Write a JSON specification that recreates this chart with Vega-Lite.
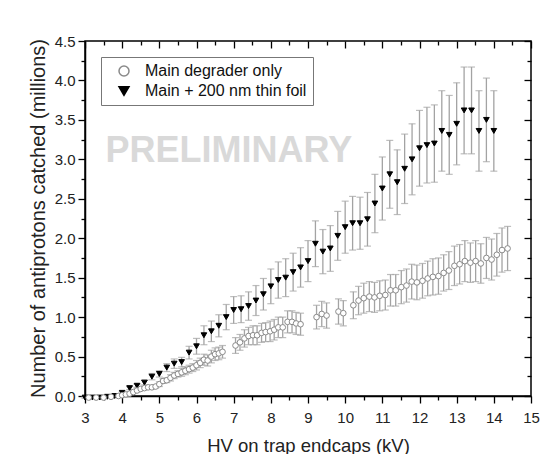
{
  "$schema": "https://vega.github.io/schema/vega-lite/v6.json",
  "autosize": {"type": "none"},
  "padding": {"left": 85, "top": 41, "right": 26, "bottom": 58},
  "width": 446,
  "height": 355,
  "background": "white",
  "config": {
    "font": "Liberation Sans",
    "view": {"stroke": "black", "strokeWidth": 1.5},
    "axis": {"grid": false, "domainColor": "black", "domainWidth": 1.5, "tickColor": "black", "tickWidth": 1.3, "labelColor": "#222", "titleColor": "#222", "labelFont": "Liberation Sans", "titleFont": "Liberation Sans", "titleFontWeight": "normal"}
  },
  "datasets": {
    "pts": [
      {"series": "Main + 200 nm thin foil", "hv": 3.0, "n": -0.02, "err": 0.01},
      {"series": "Main + 200 nm thin foil", "hv": 3.2, "n": -0.02, "err": 0.01},
      {"series": "Main + 200 nm thin foil", "hv": 3.4, "n": -0.02, "err": 0.01},
      {"series": "Main + 200 nm thin foil", "hv": 3.6, "n": -0.01, "err": 0.01},
      {"series": "Main + 200 nm thin foil", "hv": 3.8, "n": 0.0, "err": 0.01},
      {"series": "Main + 200 nm thin foil", "hv": 4.0, "n": 0.04, "err": 0.01},
      {"series": "Main + 200 nm thin foil", "hv": 4.2, "n": 0.10, "err": 0.02},
      {"series": "Main + 200 nm thin foil", "hv": 4.4, "n": 0.13, "err": 0.02},
      {"series": "Main + 200 nm thin foil", "hv": 4.6, "n": 0.17, "err": 0.03},
      {"series": "Main + 200 nm thin foil", "hv": 4.8, "n": 0.245, "err": 0.04},
      {"series": "Main + 200 nm thin foil", "hv": 5.0, "n": 0.28, "err": 0.04},
      {"series": "Main + 200 nm thin foil", "hv": 5.2, "n": 0.36, "err": 0.05},
      {"series": "Main + 200 nm thin foil", "hv": 5.4, "n": 0.41, "err": 0.06},
      {"series": "Main + 200 nm thin foil", "hv": 5.6, "n": 0.43, "err": 0.06},
      {"series": "Main + 200 nm thin foil", "hv": 5.8, "n": 0.55, "err": 0.08},
      {"series": "Main + 200 nm thin foil", "hv": 6.0, "n": 0.63, "err": 0.10},
      {"series": "Main + 200 nm thin foil", "hv": 6.2, "n": 0.77, "err": 0.12},
      {"series": "Main + 200 nm thin foil", "hv": 6.4, "n": 0.82, "err": 0.13},
      {"series": "Main + 200 nm thin foil", "hv": 6.6, "n": 0.89, "err": 0.14},
      {"series": "Main + 200 nm thin foil", "hv": 6.8, "n": 1.0, "err": 0.16},
      {"series": "Main + 200 nm thin foil", "hv": 7.0, "n": 1.09, "err": 0.17},
      {"series": "Main + 200 nm thin foil", "hv": 7.2, "n": 1.10, "err": 0.17},
      {"series": "Main + 200 nm thin foil", "hv": 7.4, "n": 1.14, "err": 0.18},
      {"series": "Main + 200 nm thin foil", "hv": 7.6, "n": 1.21, "err": 0.19},
      {"series": "Main + 200 nm thin foil", "hv": 7.8, "n": 1.29, "err": 0.20},
      {"series": "Main + 200 nm thin foil", "hv": 8.0, "n": 1.39, "err": 0.22},
      {"series": "Main + 200 nm thin foil", "hv": 8.2, "n": 1.47, "err": 0.23},
      {"series": "Main + 200 nm thin foil", "hv": 8.4, "n": 1.50, "err": 0.24},
      {"series": "Main + 200 nm thin foil", "hv": 8.6, "n": 1.57, "err": 0.24},
      {"series": "Main + 200 nm thin foil", "hv": 8.8, "n": 1.63, "err": 0.25},
      {"series": "Main + 200 nm thin foil", "hv": 9.0, "n": 1.71, "err": 0.26},
      {"series": "Main + 200 nm thin foil", "hv": 9.2, "n": 1.93, "err": 0.29},
      {"series": "Main + 200 nm thin foil", "hv": 9.4, "n": 1.83, "err": 0.28},
      {"series": "Main + 200 nm thin foil", "hv": 9.6, "n": 1.87, "err": 0.29},
      {"series": "Main + 200 nm thin foil", "hv": 9.8, "n": 2.03, "err": 0.31},
      {"series": "Main + 200 nm thin foil", "hv": 10.0, "n": 2.14, "err": 0.33},
      {"series": "Main + 200 nm thin foil", "hv": 10.2, "n": 2.19, "err": 0.34},
      {"series": "Main + 200 nm thin foil", "hv": 10.4, "n": 2.19, "err": 0.33},
      {"series": "Main + 200 nm thin foil", "hv": 10.6, "n": 2.24, "err": 0.34},
      {"series": "Main + 200 nm thin foil", "hv": 10.8, "n": 2.44, "err": 0.37},
      {"series": "Main + 200 nm thin foil", "hv": 11.0, "n": 2.63, "err": 0.40},
      {"series": "Main + 200 nm thin foil", "hv": 11.2, "n": 2.81, "err": 0.43},
      {"series": "Main + 200 nm thin foil", "hv": 11.4, "n": 2.71, "err": 0.41},
      {"series": "Main + 200 nm thin foil", "hv": 11.6, "n": 2.88, "err": 0.44},
      {"series": "Main + 200 nm thin foil", "hv": 11.8, "n": 3.0, "err": 0.45},
      {"series": "Main + 200 nm thin foil", "hv": 12.0, "n": 3.14, "err": 0.48},
      {"series": "Main + 200 nm thin foil", "hv": 12.2, "n": 3.18, "err": 0.48},
      {"series": "Main + 200 nm thin foil", "hv": 12.4, "n": 3.20, "err": 0.49},
      {"series": "Main + 200 nm thin foil", "hv": 12.6, "n": 3.36, "err": 0.51},
      {"series": "Main + 200 nm thin foil", "hv": 12.8, "n": 3.31, "err": 0.50},
      {"series": "Main + 200 nm thin foil", "hv": 13.0, "n": 3.45, "err": 0.52},
      {"series": "Main + 200 nm thin foil", "hv": 13.2, "n": 3.62, "err": 0.55},
      {"series": "Main + 200 nm thin foil", "hv": 13.4, "n": 3.62, "err": 0.55},
      {"series": "Main + 200 nm thin foil", "hv": 13.6, "n": 3.36, "err": 0.51},
      {"series": "Main + 200 nm thin foil", "hv": 13.8, "n": 3.50, "err": 0.53},
      {"series": "Main + 200 nm thin foil", "hv": 14.0, "n": 3.36, "err": 0.51},
      {"series": "Main degrader only", "hv": 3.1, "n": -0.02, "err": 0.01},
      {"series": "Main degrader only", "hv": 3.3, "n": -0.02, "err": 0.01},
      {"series": "Main degrader only", "hv": 3.5, "n": -0.02, "err": 0.01},
      {"series": "Main degrader only", "hv": 3.7, "n": -0.01, "err": 0.01},
      {"series": "Main degrader only", "hv": 3.9, "n": 0.0, "err": 0.01},
      {"series": "Main degrader only", "hv": 4.0, "n": 0.01, "err": 0.01},
      {"series": "Main degrader only", "hv": 4.1, "n": 0.02, "err": 0.01},
      {"series": "Main degrader only", "hv": 4.2, "n": 0.03, "err": 0.01},
      {"series": "Main degrader only", "hv": 4.3, "n": 0.05, "err": 0.01},
      {"series": "Main degrader only", "hv": 4.4, "n": 0.07, "err": 0.02},
      {"series": "Main degrader only", "hv": 4.5, "n": 0.09, "err": 0.02},
      {"series": "Main degrader only", "hv": 4.6, "n": 0.10, "err": 0.02},
      {"series": "Main degrader only", "hv": 4.7, "n": 0.11, "err": 0.02},
      {"series": "Main degrader only", "hv": 4.8, "n": 0.11, "err": 0.02},
      {"series": "Main degrader only", "hv": 4.9, "n": 0.12, "err": 0.02},
      {"series": "Main degrader only", "hv": 5.0, "n": 0.15, "err": 0.03},
      {"series": "Main degrader only", "hv": 5.1, "n": 0.19, "err": 0.03},
      {"series": "Main degrader only", "hv": 5.2, "n": 0.20, "err": 0.03},
      {"series": "Main degrader only", "hv": 5.3, "n": 0.23, "err": 0.04},
      {"series": "Main degrader only", "hv": 5.4, "n": 0.26, "err": 0.04},
      {"series": "Main degrader only", "hv": 5.5, "n": 0.28, "err": 0.04},
      {"series": "Main degrader only", "hv": 5.6, "n": 0.30, "err": 0.05},
      {"series": "Main degrader only", "hv": 5.7, "n": 0.32, "err": 0.05},
      {"series": "Main degrader only", "hv": 5.8, "n": 0.34, "err": 0.05},
      {"series": "Main degrader only", "hv": 5.9, "n": 0.36, "err": 0.05},
      {"series": "Main degrader only", "hv": 6.0, "n": 0.39, "err": 0.06},
      {"series": "Main degrader only", "hv": 6.1, "n": 0.42, "err": 0.06},
      {"series": "Main degrader only", "hv": 6.2, "n": 0.46, "err": 0.07},
      {"series": "Main degrader only", "hv": 6.3, "n": 0.45, "err": 0.07},
      {"series": "Main degrader only", "hv": 6.4, "n": 0.50, "err": 0.08},
      {"series": "Main degrader only", "hv": 6.5, "n": 0.53, "err": 0.08},
      {"series": "Main degrader only", "hv": 6.6, "n": 0.54, "err": 0.08},
      {"series": "Main degrader only", "hv": 6.7, "n": 0.56, "err": 0.08},
      {"series": "Main degrader only", "hv": 7.05, "n": 0.64, "err": 0.10},
      {"series": "Main degrader only", "hv": 7.17, "n": 0.68, "err": 0.10},
      {"series": "Main degrader only", "hv": 7.29, "n": 0.73, "err": 0.11},
      {"series": "Main degrader only", "hv": 7.4, "n": 0.76, "err": 0.11},
      {"series": "Main degrader only", "hv": 7.52, "n": 0.77, "err": 0.12},
      {"series": "Main degrader only", "hv": 7.63, "n": 0.77, "err": 0.12},
      {"series": "Main degrader only", "hv": 7.75, "n": 0.80, "err": 0.12},
      {"series": "Main degrader only", "hv": 7.86, "n": 0.81, "err": 0.12},
      {"series": "Main degrader only", "hv": 7.98, "n": 0.82, "err": 0.13},
      {"series": "Main degrader only", "hv": 8.09, "n": 0.84, "err": 0.13},
      {"series": "Main degrader only", "hv": 8.2, "n": 0.87, "err": 0.13},
      {"series": "Main degrader only", "hv": 8.32, "n": 0.87, "err": 0.13},
      {"series": "Main degrader only", "hv": 8.45, "n": 0.94, "err": 0.14},
      {"series": "Main degrader only", "hv": 8.57, "n": 0.94, "err": 0.14},
      {"series": "Main degrader only", "hv": 8.68, "n": 0.92, "err": 0.14},
      {"series": "Main degrader only", "hv": 8.8, "n": 0.91, "err": 0.14},
      {"series": "Main degrader only", "hv": 9.23, "n": 1.0, "err": 0.15},
      {"series": "Main degrader only", "hv": 9.37, "n": 1.04, "err": 0.16},
      {"series": "Main degrader only", "hv": 9.5, "n": 1.02, "err": 0.16},
      {"series": "Main degrader only", "hv": 9.82, "n": 1.07, "err": 0.16},
      {"series": "Main degrader only", "hv": 9.95, "n": 1.05, "err": 0.16},
      {"series": "Main degrader only", "hv": 10.22, "n": 1.15, "err": 0.17},
      {"series": "Main degrader only", "hv": 10.36, "n": 1.21, "err": 0.18},
      {"series": "Main degrader only", "hv": 10.5, "n": 1.24, "err": 0.19},
      {"series": "Main degrader only", "hv": 10.65, "n": 1.26, "err": 0.19},
      {"series": "Main degrader only", "hv": 10.79, "n": 1.25, "err": 0.19},
      {"series": "Main degrader only", "hv": 10.93, "n": 1.27, "err": 0.19},
      {"series": "Main degrader only", "hv": 11.08, "n": 1.28, "err": 0.19},
      {"series": "Main degrader only", "hv": 11.22, "n": 1.34, "err": 0.20},
      {"series": "Main degrader only", "hv": 11.36, "n": 1.34, "err": 0.20},
      {"series": "Main degrader only", "hv": 11.51, "n": 1.38, "err": 0.21},
      {"series": "Main degrader only", "hv": 11.65, "n": 1.40, "err": 0.21},
      {"series": "Main degrader only", "hv": 11.79, "n": 1.45, "err": 0.22},
      {"series": "Main degrader only", "hv": 11.93, "n": 1.44, "err": 0.22},
      {"series": "Main degrader only", "hv": 12.08, "n": 1.46, "err": 0.22},
      {"series": "Main degrader only", "hv": 12.22, "n": 1.49, "err": 0.22},
      {"series": "Main degrader only", "hv": 12.36, "n": 1.51, "err": 0.23},
      {"series": "Main degrader only", "hv": 12.51, "n": 1.52, "err": 0.23},
      {"series": "Main degrader only", "hv": 12.65, "n": 1.56, "err": 0.23},
      {"series": "Main degrader only", "hv": 12.79, "n": 1.59, "err": 0.24},
      {"series": "Main degrader only", "hv": 12.94, "n": 1.65, "err": 0.25},
      {"series": "Main degrader only", "hv": 13.08, "n": 1.67, "err": 0.25},
      {"series": "Main degrader only", "hv": 13.22, "n": 1.71, "err": 0.26},
      {"series": "Main degrader only", "hv": 13.37, "n": 1.69, "err": 0.25},
      {"series": "Main degrader only", "hv": 13.51, "n": 1.71, "err": 0.26},
      {"series": "Main degrader only", "hv": 13.65, "n": 1.68, "err": 0.25},
      {"series": "Main degrader only", "hv": 13.8, "n": 1.75, "err": 0.26},
      {"series": "Main degrader only", "hv": 13.94, "n": 1.73, "err": 0.26},
      {"series": "Main degrader only", "hv": 14.08, "n": 1.79, "err": 0.27},
      {"series": "Main degrader only", "hv": 14.22, "n": 1.85, "err": 0.28},
      {"series": "Main degrader only", "hv": 14.37, "n": 1.87, "err": 0.28}
    ],
    "mark": [{"label": "PRELIMINARY", "hv": 6.87, "n": 3.1}]
  },
  "resolve": {"axis": {"x": "independent", "y": "independent"}},
  "layer": [
    {
      "data": {"name": "mark"},
      "mark": {"type": "text", "font": "Liberation Sans", "fontWeight": "bold", "fontSize": 36, "color": "#d9d9d9", "align": "center", "baseline": "middle"},
      "encoding": {
        "x": {"field": "hv", "type": "quantitative", "scale": {"domain": [3, 15], "nice": false, "zero": false},
          "axis": {"orient": "top", "title": "", "labels": true, "labelOpacity": 0, "labelFontSize": 1, "domain": false,
            "values": [3,3.5,4,4.5,5,5.5,6,6.5,7,7.5,8,8.5,9,9.5,10,10.5,11,11.5,12,12.5,13,13.5,14,14.5,15],
            "tickSize": {"condition": {"test": "datum.value % 1 === 0", "value": -7}, "value": -4}}},
        "y": {"field": "n", "type": "quantitative", "scale": {"domain": [0, 4.5], "nice": false, "zero": false},
          "axis": {"orient": "right", "title": "", "labels": true, "labelOpacity": 0, "labelFontSize": 1, "domain": false,
            "values": [0,0.25,0.5,0.75,1,1.25,1.5,1.75,2,2.25,2.5,2.75,3,3.25,3.5,3.75,4,4.25,4.5],
            "tickSize": {"condition": {"test": "(datum.value * 2) % 1 === 0", "value": -7}, "value": -4}}},
        "text": {"field": "label"}
      }
    },
    {
      "data": {"name": "pts"},
      "mark": {"type": "errorbar", "ticks": {"size": 7, "thickness": 1.2}, "color": "#a3a3a3", "thickness": 1.3},
      "encoding": {
        "x": {"field": "hv", "type": "quantitative",
          "axis": {"orient": "bottom", "title": "HV on trap endcaps (kV)", "titleFontSize": 18.5, "titleX": 223, "titleY": 49, "titleBaseline": "middle",
            "values": [3,3.5,4,4.5,5,5.5,6,6.5,7,7.5,8,8.5,9,9.5,10,10.5,11,11.5,12,12.5,13,13.5,14,14.5,15],
            "labelExpr": "datum.value % 1 === 0 ? format(datum.value, 'd') : ''", "labelFontSize": 15, "labelPadding": 7, "labelOverlap": false, "labelFlush": false,
            "tickSize": {"condition": {"test": "datum.value % 1 === 0", "value": 7}, "value": 4}}},
        "y": {"field": "n", "type": "quantitative",
          "axis": {"orient": "left", "title": "Number of antiprotons catched (millions)", "titleFontSize": 20, "titleX": -47, "titleY": 177, "titleAngle": -90, "titleBaseline": "middle", "titleAlign": "center",
            "values": [0,0.25,0.5,0.75,1,1.25,1.5,1.75,2,2.25,2.5,2.75,3,3.25,3.5,3.75,4,4.25,4.5],
            "labelExpr": "(datum.value * 2) % 1 === 0 ? format(datum.value, '.1f') : ''", "labelFontSize": 15, "labelPadding": 3, "labelOverlap": false, "labelFlush": false,
            "tickSize": {"condition": {"test": "(datum.value * 2) % 1 === 0", "value": 7}, "value": 4}}},
        "yError": {"field": "err"}
      }
    },
    {
      "data": {"name": "pts"},
      "mark": {"type": "point", "strokeWidth": 1, "opacity": 1, "size": 32},
      "encoding": {
        "x": {"field": "hv", "type": "quantitative", "axis": null},
        "y": {"field": "n", "type": "quantitative", "axis": null},
        "shape": {"field": "series", "type": "nominal", "scale": {"domain": ["Main degrader only", "Main + 200 nm thin foil"], "range": ["circle", "triangle-down"]},
          "legend": {"title": null, "orient": "none", "legendX": 16, "legendY": 16, "fillColor": "white", "strokeColor": "#777", "padding": 6, "symbolOffset": 9, "labelOffset": 13, "labelFontSize": 16, "labelFont": "Liberation Sans", "labelColor": "#111", "rowPadding": 4, "labelLimit": 300}},
        "fill": {"field": "series", "type": "nominal", "scale": {"domain": ["Main degrader only", "Main + 200 nm thin foil"], "range": ["white", "black"]}},
        "stroke": {"field": "series", "type": "nominal", "scale": {"domain": ["Main degrader only", "Main + 200 nm thin foil"], "range": ["#8a8a8a", "black"]}}
      }
    }
  ]
}
